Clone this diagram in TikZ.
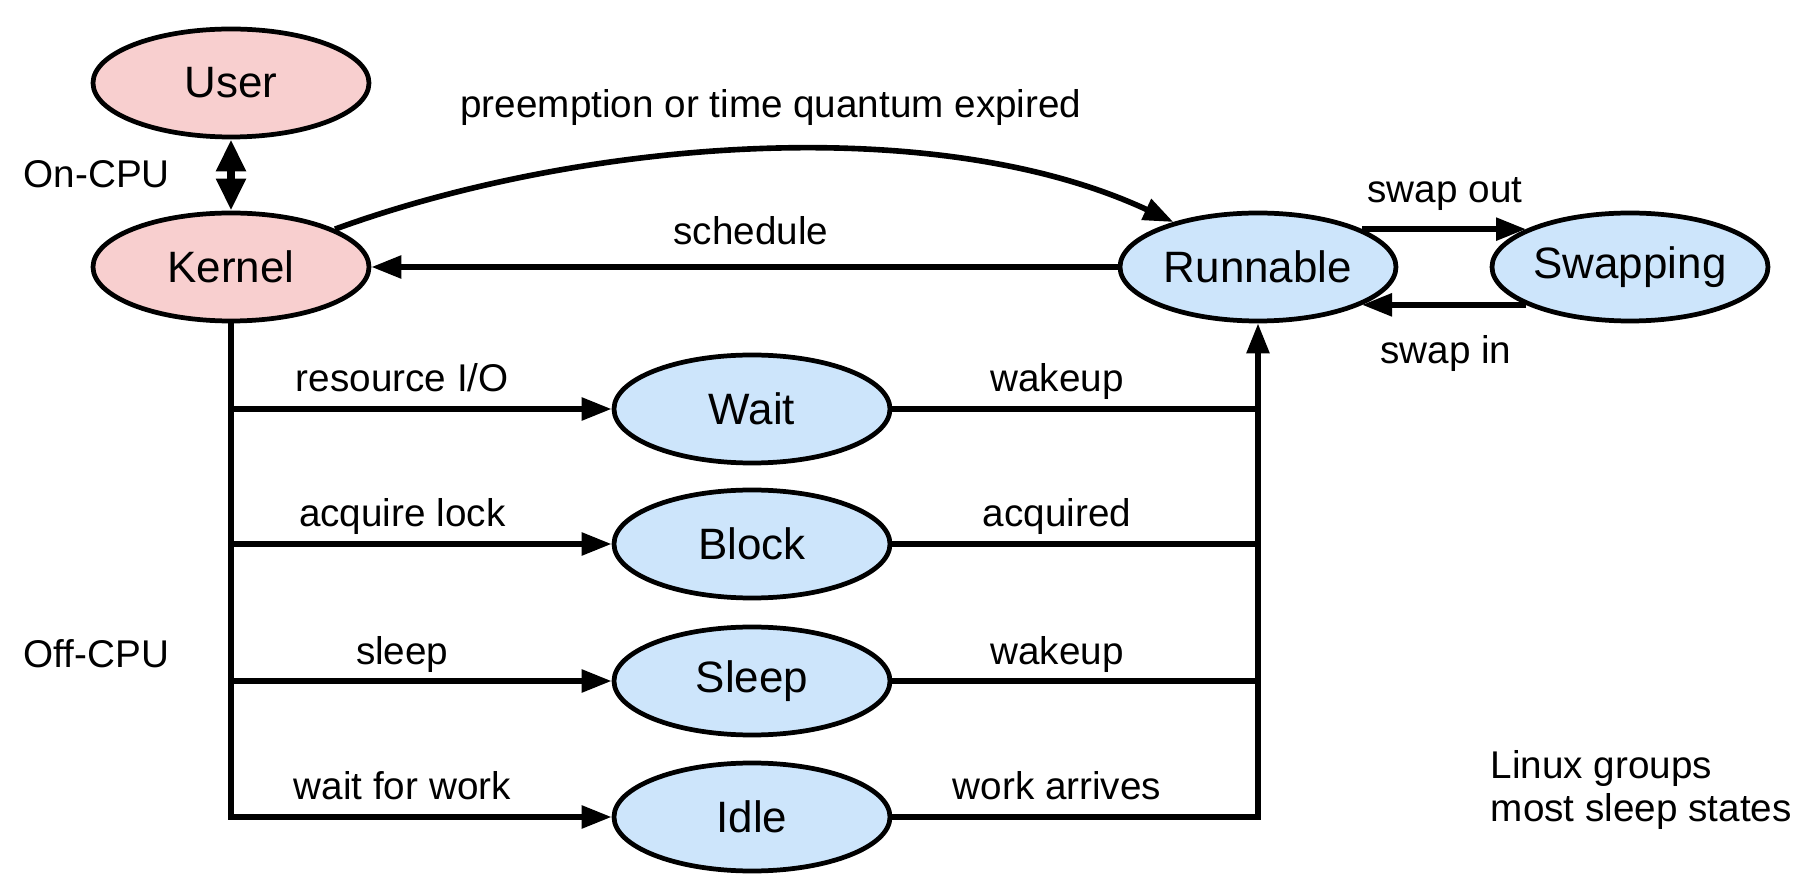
\documentclass[tikz,border=0pt]{standalone}
\usepackage{fontspec}
\setmainfont{Liberation Sans}
\usetikzlibrary{arrows.meta, positioning, shapes.geometric}
\definecolor{cpupink}{HTML}{F8CFCF}
\definecolor{offblue}{HTML}{CDE5FB}

\begin{document}
\begin{tikzpicture}[>={Triangle[length=3mm, width=2.2mm]}, line width=1.6pt,
                state/.style={
                        ellipse,
                        draw=black,
                        line width=1.35pt,
                        inner sep=0pt,
                        minimum width=2.76cm,
                        minimum height=1.08cm,
                        font=\fontsize{12.5}{14}\selectfont},
                lbl/.style={
                        inner sep=0pt,
                        font=\fontsize{11}{13}\selectfont},
                onedge/.style={lbl, pos=.45, anchor=base, yshift=0.17cm}]

                \useasboundingbox (0,0) rectangle (18.18,-8.84);

                \node[state, fill=cpupink] (U) at (2.31, -0.83) {User};
                \node[state, fill=cpupink] (K) at (2.31, -2.67) {Kernel};

                \node[state, fill=offblue] (R) at (12.58, -2.67) {Runnable};
                \node[state, fill=offblue] (S) at (16.30, -2.67) {Swapping};

                \node[state, fill=offblue] (W) at (7.52, -4.09) {Wait};
                \node[state, fill=offblue] (B) at (7.52, -5.44) {Block};
                \node[state, fill=offblue] (P) at (7.52, -6.81) {Sleep};
                \node[state, fill=offblue] (I) at (7.52, -8.17) {Idle};

                \node[lbl, anchor=base west] (on) at (0.21, -1.88) {On-CPU};
                \node[lbl, anchor=base west] (off) at (0.21, -6.68) {Off-CPU};
                \node[lbl, anchor=base] (pre) at (7.71, -1.18) {preemption or time quantum expired};
                \node[lbl, anchor=base] (sch) at (7.51, -2.45) {schedule};
                \node[lbl, anchor=base] (so) at (14.45, -2.03) {swap out};
                \node[lbl, anchor=base] (si) at (14.46, -3.64) {swap in};
                \node[lbl, anchor=north west, align=left, font=\fontsize{11}{12.2}\selectfont]
                        (note) at (14.88, -7.48) {Linux groups\\most sleep states};

                \draw[{Triangle[length=3.2mm, width=2.8mm]}-{Triangle[length=3.2mm, width=2.8mm]},
                        line width=2.4pt] (U) -- (K);
                \draw[->] (K.20) to[out=20, in=155, looseness=0.8] (R.152);
                \draw[->] (R) -- (K);
                \draw[->] (R.20) -- (S.160);
                \draw[->] (S.200) -- (R.-20);

                \draw[->] (K |- W) -- node[onedge] {resource I/O} (W);
                \draw[->] (K |- B) -- node[onedge] {acquire lock} (B);
                \draw[->] (K |- P) -- node[onedge] {sleep} (P);
                \draw[->] (K) |- node[onedge, pos=.725] {wait for work} (I);

                \draw (W) -- node[onedge] {wakeup} (R |- W);
                \draw (B) -- node[onedge] {acquired} (R |- B);
                \draw (P) -- node[onedge] {wakeup} (R |- P);
                \draw[->] (I) -| node[onedge, pos=.225] {work arrives} (R);
\end{tikzpicture}
\end{document}
